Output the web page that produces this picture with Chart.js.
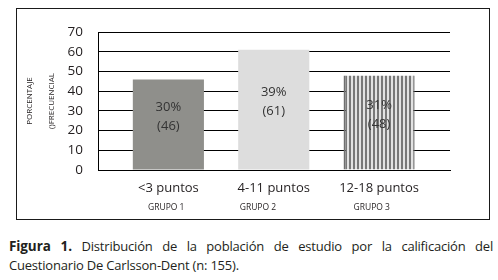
<!DOCTYPE html>
<html>
<head>
<meta charset="utf-8">
<script src="https://cdn.jsdelivr.net/npm/chart.js@4"></script>
<style>
  html, body { margin: 0; padding: 0; background: #fff; width: 498px; height: 280px; overflow: hidden; }
  #box { position: absolute; left: 16px; top: 8px; width: 472px; height: 210px; border: 1px solid #1a1a1a; }
  #box canvas { display: block; }
  .cap { position: absolute; left: 9px; width: 484px; font-family: 'Open Sans', sans-serif; font-size: 13px; letter-spacing: -0.2px; color: #231f20; white-space: nowrap; }
  .cap b { font-size: 13.5px; letter-spacing: -0.1px; }
  #cap1 { top: 237px; text-align: justify; text-align-last: justify; white-space: normal; }
  #cap2 { top: 256px; }
</style>
</head>
<body>
<div id="box"><canvas id="chart" width="472" height="210"></canvas></div>
<div class="cap" id="cap1"><b>Figura 1.</b> Distribución de la población de estudio por la calificación del</div>
<div class="cap" id="cap2">Cuestionario De Carlsson-Dent (n: 155).</div>
<script>
// data
const categories = ['<3 puntos', '4-11 puntos', '12-18 puntos'];
const groups = ['GRUPO 1', 'GRUPO 2', 'GRUPO 3'];
const frequency = [46, 61, 48];
const percent = [30, 39, 31];
const yTicks = [0, 10, 20, 30, 40, 50, 60, 70];

const TEXT = '#231f20';
const FONT = "'Open Sans', sans-serif";

// striped fill for the third bar
function stripes() {
  const c = document.createElement('canvas');
  c.width = 4; c.height = 4;
  const g = c.getContext('2d');
  g.fillStyle = '#e2e2e2'; g.fillRect(0, 0, 4, 4);
  g.fillStyle = '#787878'; g.fillRect(0, 0, 2, 4);
  return g.createPattern(c, 'repeat');
}

const barLabels = {
  id: 'barLabels',
  afterDatasetsDraw(chart) {
    const { ctx } = chart;
    const meta = chart.getDatasetMeta(0);
    ctx.save();
    ctx.font = `13px ${FONT}`;
    ctx.fillStyle = '#333';
    ctx.textAlign = 'center';
    ctx.textBaseline = 'middle';
    meta.data.forEach((bar, i) => {
      const { x, y, base } = bar.getProps(['x', 'y', 'base'], true);
      const mid = (y + base) / 2 - 8;
      ctx.fillText(percent[i] + '%', x, mid - 9);
      ctx.fillText('(' + frequency[i] + ')', x, mid + 10);
    });
    ctx.restore();
  },
};

new Chart(document.getElementById('chart'), {
  type: 'bar',
  data: {
    datasets: [{
      data: frequency.map((v, i) => ({ x: i, y: v })),
      backgroundColor: ['#8f8f8b', '#dddddd', stripes()],
      borderColor: ['#8f8f8b', '#dddddd', '#6e6e6e'],
      borderWidth: [0, 0, { left: 2, right: 1, top: 0, bottom: 0 }],
      borderSkipped: false,
      barPercentage: 1,
      categoryPercentage: 0.675,
    }],
  },
  options: {
    responsive: false,
    animation: false,
    events: [],
    layout: { padding: { top: 17, right: 39, left: 0, bottom: 0 } },
    plugins: { legend: { display: false }, tooltip: { enabled: false } },
    scales: {
      x: {
        type: 'linear',
        position: 'bottom',
        weight: 1,
        offset: false,
        min: -0.668,
        max: 2.673,
        afterBuildTicks: s => { s.ticks = categories.map((c, i) => ({ value: i })); },
        afterFit: s => { s.height = 28; },
        grid: { display: false, offset: false, drawTicks: false },
        border: { display: true, color: '#000', width: 1 },
        ticks: {
          padding: 10,
          maxRotation: 0,
          autoSkip: false,
          color: TEXT,
          font: { family: FONT, size: 13 },
          callback: (v, i) => categories[i],
        },
      },
      x2: {
        type: 'linear',
        position: 'bottom',
        weight: 2,
        offset: false,
        min: -0.668,
        max: 2.673,
        afterBuildTicks: s => { s.ticks = [-0.02, 0.85, 1.93].map(v => ({ value: v })); },
        afterFit: s => { s.height = 21; },
        grid: { display: false, drawTicks: false },
        border: { display: false },
        ticks: {
          padding: 4,
          maxRotation: 0,
          autoSkip: false,
          color: TEXT,
          font: { family: FONT, size: 8.5 },
          callback: (v, i) => groups[i],
        },
      },
      y: {
        min: 0,
        max: 70,
        afterBuildTicks: s => { s.ticks = yTicks.map(v => ({ value: v })); },
        afterFit: s => { s.width = 81; },
        grid: { color: '#000', lineWidth: 1, drawTicks: false },
        border: { display: true, color: '#000', width: 1 },
        ticks: {
          padding: 15,
          color: TEXT,
          font: { family: FONT, size: 13.5 },
        },
        title: {
          display: true,
          text: ['PORCENTAJE', '()FRECUENCIAL'],
          color: TEXT,
          font: { family: FONT, size: 8, lineHeight: 2.75 },
          padding: { top: 2, bottom: 0 },
        },
      },
    },
  },
  plugins: [barLabels],
});
</script>
</body>
</html>
